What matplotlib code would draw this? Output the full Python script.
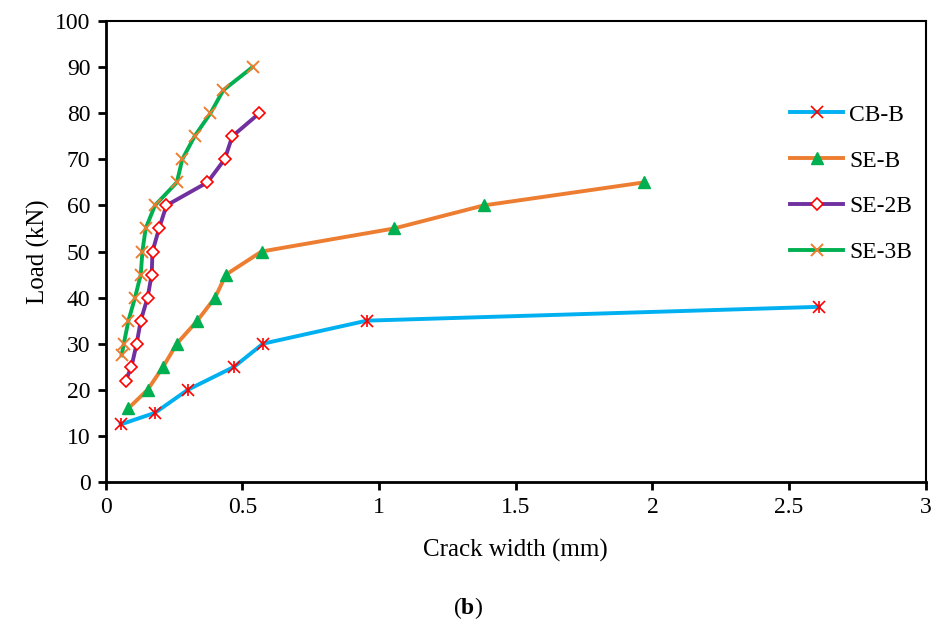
import matplotlib.pyplot as plt

plt.rcParams['font.family'] = ['Liberation Serif', 'DejaVu Serif']
plt.rcParams['mathtext.fontset'] = 'custom'
plt.rcParams['mathtext.rm'] = 'Liberation Serif'
plt.rcParams['mathtext.bf'] = 'Liberation Serif:bold'

cb_x = [0.055, 0.18, 0.30, 0.47, 0.575, 0.955, 2.61]
cb_y = [12.5, 15, 20, 25, 30, 35, 38]

se_x = [0.083, 0.153, 0.21, 0.26, 0.335, 0.40, 0.44, 0.57, 1.055, 1.383, 1.97]
se_y = [16, 20, 25, 30, 35, 40, 45, 50, 55, 60, 65]

se2_x = [0.073, 0.094, 0.113, 0.128, 0.153, 0.168, 0.171, 0.195, 0.222,
         0.372, 0.435, 0.463, 0.562]
se2_y = [22, 25, 30, 35, 40, 45, 50, 55, 60, 65, 70, 75, 80]

se3_x = [0.058, 0.066, 0.083, 0.107, 0.128, 0.134, 0.146, 0.18, 0.26,
         0.28, 0.325, 0.383, 0.43, 0.537]
se3_y = [27.5, 30, 35, 40, 45, 50, 55, 60, 65, 70, 75, 80, 85, 90]

fig = plt.figure(figsize=(9.36, 6.28), dpi=100)
ax = fig.add_axes([0.113, 0.2325, 0.876, 0.734])

ax.plot(cb_x, cb_y, color='#00b0f0', lw=2.8, marker='x', ms=8, mec='red',
        mew=1.2, label='CB-B')
ax.plot(cb_x, cb_y, ls='none', marker='|', ms=9, mec='red', mew=1.2)
ax.plot(se_x, se_y, color='#ed7d31', lw=2.8, marker='^', ms=9, mfc='#00b050',
        mec='#00b050', label='SE-B')
ax.plot(se2_x, se2_y, color='#7030a0', lw=2.8, marker='D', ms=6.5, mfc='white',
        mec='red', mew=1.2, label='SE-2B')
ax.plot(se3_x, se3_y, color='#00b050', lw=2.8, marker='x', ms=9, mec='#ed7d31',
        mew=1.4, label='SE-3B')

ax.set_xlim(0, 3)
ax.set_ylim(0, 100)
ax.set_xticks([0, 0.5, 1, 1.5, 2, 2.5, 3])
ax.set_xticklabels(['0', '0.5', '1', '1.5', '2', '2.5', '3'])
ax.set_yticks(range(0, 101, 10))
ax.tick_params(labelsize=17, width=2, length=6, direction='out', pad=5)
for s in ['left', 'bottom']:
    ax.spines[s].set_linewidth(2)
for s in ['top', 'right']:
    ax.spines[s].set_linewidth(1.5)

ax.set_xlabel('Crack width (mm)', fontsize=18, labelpad=15)
ax.set_ylabel('Load (kN)', fontsize=18, labelpad=4)

ax.legend(loc='upper left', bbox_to_anchor=(0.823, 0.84), frameon=False,
          fontsize=17, labelspacing=1.03, handlelength=2.25, handletextpad=0.25,
          borderaxespad=0)

fig.text(0.5, 0.022, r'($\mathbf{b}$)', ha='center', fontsize=17)

fig.savefig('out.png', dpi=100)
